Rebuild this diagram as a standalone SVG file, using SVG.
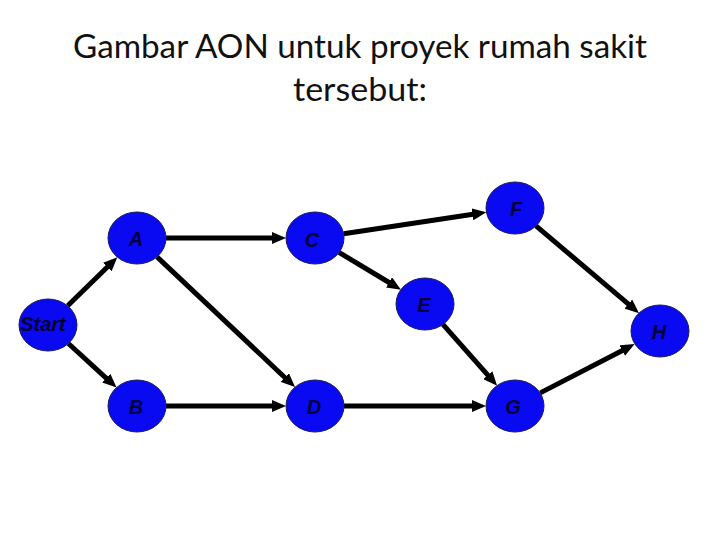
<svg xmlns="http://www.w3.org/2000/svg" width="720" height="540" viewBox="0 0 720 540">
<style>
.title{font-family:Lato,"Open Sans","Liberation Sans",sans-serif;font-size:33px;fill:#111;text-anchor:middle}
.node ellipse{fill:#0a0af2;stroke:#1a1a5a;stroke-width:1}
.node text{font-family:"Liberation Sans",Arial,sans-serif;font-style:italic;font-weight:bold;font-size:20px;fill:#00003a;text-anchor:middle}
.edges line{stroke:#000;stroke-width:5;marker-end:url(#arr)}
</style>
<defs>
<marker id="arr" markerUnits="userSpaceOnUse" markerWidth="14" markerHeight="12" refX="4" refY="6" orient="auto">
<path d="M0,0 L14,6 L0,12 z" fill="#000"/>
</marker>
</defs>
<rect width="720" height="540" fill="#fff"/>
<text class="title" x="360" y="58" textLength="574" lengthAdjust="spacingAndGlyphs">Gambar AON untuk proyek rumah sakit</text>
<text class="title" x="360" y="101" textLength="134" lengthAdjust="spacingAndGlyphs">tersebut:</text>
<g class="edges" id="connectors">
<line x1="67.7" y1="305.8" x2="110.2" y2="264.2"/>
<line x1="68.4" y1="343.5" x2="109.2" y2="380.8"/>
<line x1="166" y1="238" x2="276" y2="238"/>
<line x1="157" y1="256.9" x2="287.7" y2="380.2"/>
<line x1="166" y1="406" x2="276" y2="406"/>
<line x1="343.7" y1="233.7" x2="476.4" y2="213.8"/>
<line x1="339" y1="252.4" x2="392.4" y2="284.5"/>
<line x1="344" y1="406" x2="476" y2="406"/>
<line x1="442.9" y1="324.3" x2="490.5" y2="378.2"/>
<line x1="536" y1="225.8" x2="631.4" y2="306.7"/>
<line x1="540.3" y1="392.9" x2="625.8" y2="348.7"/>
</g>
<g class="node" id="start"><ellipse cx="48" cy="325" rx="29" ry="26"/><text x="43" y="331" style="fill:#00002a">Start</text></g>
<g class="node" id="A"><ellipse cx="137" cy="238" rx="29" ry="26"/><text x="136" y="246">A</text></g>
<g class="node" id="B"><ellipse cx="137" cy="406" rx="29" ry="26"/><text x="136" y="414">B</text></g>
<g class="node" id="C"><ellipse cx="315" cy="238" rx="29" ry="26"/><text x="312" y="247">C</text></g>
<g class="node" id="D"><ellipse cx="315" cy="406" rx="29" ry="26"/><text x="314" y="414">D</text></g>
<g class="node" id="E"><ellipse cx="425" cy="304" rx="29" ry="26"/><text x="424" y="312">E</text></g>
<g class="node" id="F"><ellipse cx="515" cy="208" rx="29" ry="26"/><text x="516" y="216">F</text></g>
<g class="node" id="G"><ellipse cx="515" cy="406" rx="29" ry="26"/><text x="513" y="414">G</text></g>
<g class="node" id="H"><ellipse cx="660" cy="331" rx="29" ry="26"/><text x="659" y="339">H</text></g>
</svg>
